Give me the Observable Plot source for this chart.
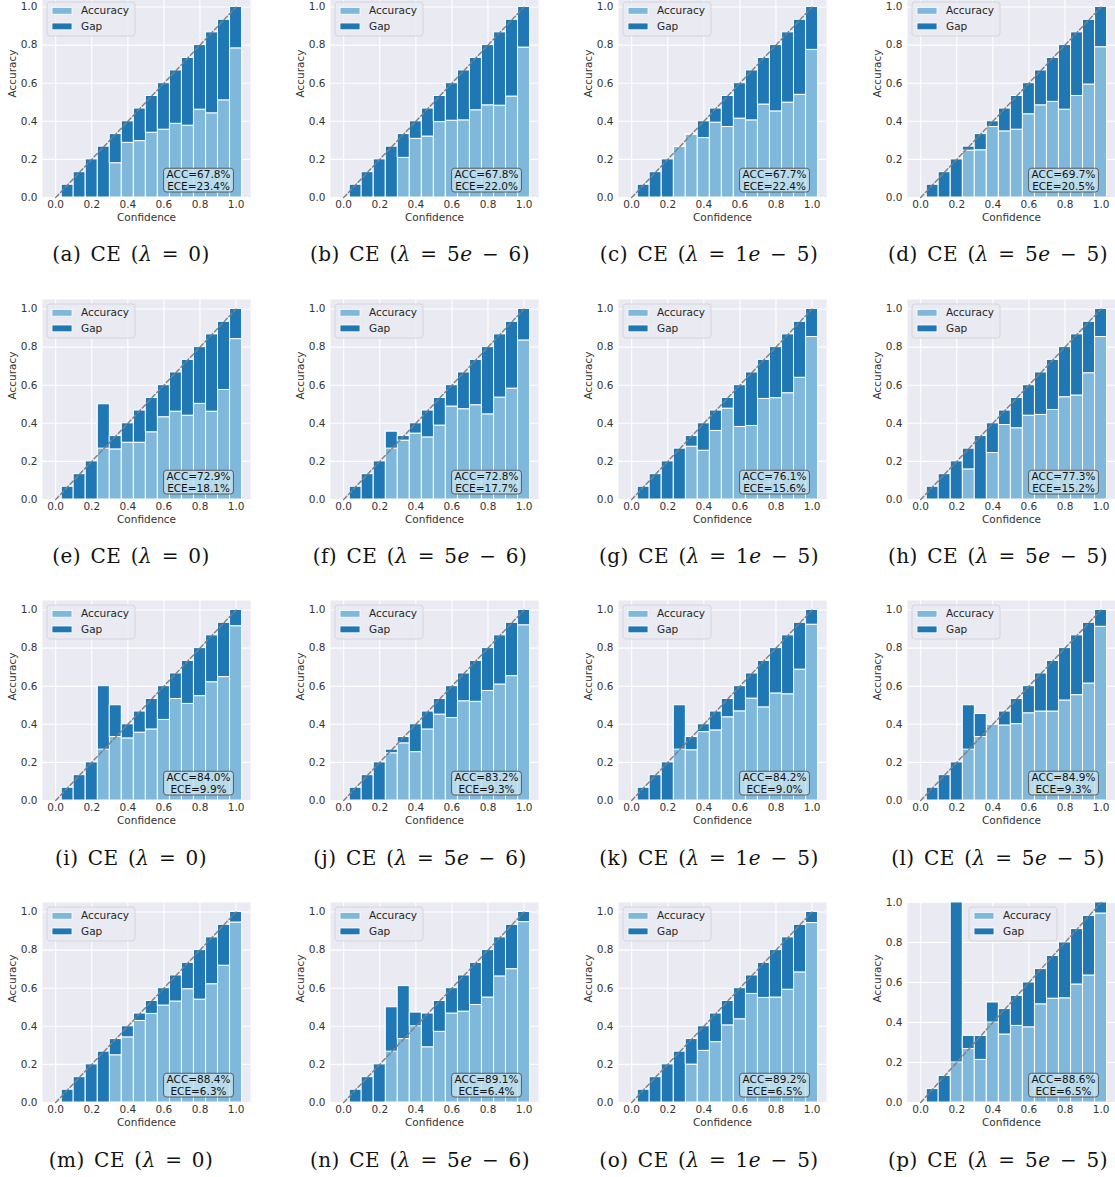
<!DOCTYPE html>
<html><head><meta charset="utf-8">
<script src="https://cdn.jsdelivr.net/npm/d3@7"></script>
<script src="https://cdn.jsdelivr.net/npm/@observablehq/plot@0.6"></script>
<style>
html,body{margin:0;padding:0;background:#fff;overflow:hidden;}
#root{position:relative;width:1115px;height:1177px;overflow:hidden;background:#fff;}
.panel{position:absolute;}
.panel svg{max-width:none !important;}
.cap{position:absolute;font-family:"DejaVu Serif","Liberation Serif",serif;font-size:20px;letter-spacing:0.5px;word-spacing:2.5px;color:#111;white-space:nowrap;transform:translate(-50%,-50%);}
.cap i{font-style:italic;}
</style></head><body><div id="root"></div>
<script>
// ---- data ----
const binConf = [0.067, 0.133, 0.2, 0.267, 0.333, 0.4, 0.467, 0.533, 0.6, 0.667, 0.733, 0.8, 0.867, 0.933, 1.0];
const binWidth = 0.0667;
const accA = [0,0,0,0,0.18,0.287,0.296,0.34,0.356,0.387,0.377,0.461,0.442,0.51,0.783];
const accB = [0,0,0,0,0.208,0.308,0.32,0.396,0.403,0.405,0.458,0.484,0.482,0.53,0.787];
const accC = [0,0,0,0.265,0.33,0.312,0.393,0.37,0.414,0.405,0.488,0.452,0.498,0.539,0.775];
const accD = [0,0,0,0.246,0.248,0.37,0.347,0.356,0.437,0.484,0.502,0.461,0.533,0.593,0.789];
const accE = [0,0,0,0.5,0.263,0.298,0.298,0.353,0.432,0.461,0.44,0.502,0.461,0.575,0.842];
const accF = [0,0,0,0.356,0.309,0.346,0.326,0.388,0.488,0.474,0.495,0.447,0.535,0.582,0.835];
const accG = [0,0,0,0,0.277,0.256,0.36,0.477,0.381,0.386,0.528,0.532,0.558,0.639,0.853];
const accH = [0,0,0,0.158,0,0.244,0.391,0.374,0.44,0.444,0.47,0.537,0.546,0.663,0.853];
const accI = [0,0,0,0.6,0.5,0.326,0.356,0.373,0.423,0.533,0.507,0.548,0.621,0.648,0.915];
const accJ = [0,0,0,0.248,0.3,0.254,0.373,0.451,0.433,0.521,0.518,0.575,0.609,0.653,0.92];
const accK = [0,0,0,0.5,0.264,0.359,0.368,0.437,0.468,0.535,0.489,0.562,0.558,0.687,0.923];
const accL = [0,0,0,0.5,0.454,0.398,0.394,0.401,0.458,0.467,0.467,0.525,0.553,0.614,0.912];
const accM = [0,0,0,0,0.248,0.342,0.428,0.465,0.509,0.53,0.595,0.54,0.621,0.718,0.945];
const accN = [0,0,0,0.5,0.611,0.472,0.29,0.371,0.467,0.477,0.512,0.551,0.662,0.7,0.947];
const accO = [0,0,0,0,0.199,0.271,0.317,0.405,0.437,0.57,0.549,0.551,0.592,0.683,0.942];
const accP = [0,0,1.0,0.333,0.213,0.5,0.34,0.383,0.376,0.491,0.519,0.521,0.59,0.635,0.945];
const panelAcc = [accA,accB,accC,accD,accE,accF,accG,accH,accI,accJ,accK,accL,accM,accN,accO,accP];
const accText = ["67.8%","67.8%","67.7%","69.7%","72.9%","72.8%","76.1%","77.3%","84.0%","83.2%","84.2%","84.9%","88.4%","89.1%","89.2%","88.6%"];
const eceText = ["23.4%","22.0%","22.4%","20.5%","18.1%","17.7%","15.6%","15.2%","9.9%","9.3%","9.0%","9.3%","6.3%","6.4%","6.5%","6.5%"];
const panelLetters = ["a","b","c","d","e","f","g","h","i","j","k","l","m","n","o","p"];
const lambdaText = ["0","5e − 6","1e − 5","5e − 5"];
const axisTicks = [0,0.2,0.4,0.6,0.8,1.0];
const legendLabels = ["Accuracy","Gap"];
const xLabel = "Confidence", yLabel = "Accuracy";

// ---- style / layout ----
const cLight = "#7fb8da", cDark = "#1f77b4", cBg = "#eaeaf2";
const colLeft = [42, 330, 618, 907];
const rowBottom = [197, 499, 800, 1102];
const capX = [131, 420, 709, 998];
const capY = [254, 556, 858, 1160];
const mL = 42, mR = 6, mT = 5, mB = 32, axW = 208, axH = 200;
const root = document.getElementById("root");
const NS = "http://www.w3.org/2000/svg";
function el(tag, attrs){const e=document.createElementNS(NS,tag);for(const k in attrs)e.setAttribute(k,attrs[k]);return e;}

panelAcc.forEach((acc, k) => {
  const r = Math.floor(k/4), c = k%4;
  const rows = binConf.map((cf,i)=>({conf:cf, acc:acc[i]}));
  const yTop = d3.max(acc) >= 1 ? 1.0 : 1.05;
  const W = mL+axW+mR, H = mT+axH+mB;
  const svg = Plot.plot({
    width: W, height: H,
    marginLeft: mL, marginRight: mR, marginTop: mT, marginBottom: mB,
    style: {fontFamily: "DejaVu Sans", fontSize: "10.5px", color: "#333", background: "transparent", overflow: "visible", maxWidth: "none"},
    x: {domain: [-0.073, 1.08], ticks: axisTicks, tickFormat: d3.format(".1f"), tickSize: 0, tickPadding: 3, label: null},
    y: {domain: [0, yTop], ticks: axisTicks, tickFormat: d3.format(".1f"), tickSize: 0, tickPadding: 5, label: null},
    marks: [
      Plot.frame({fill: cBg, stroke: null}),
      Plot.gridX(axisTicks, {stroke: "white", strokeOpacity: 1, strokeWidth: 1.1}),
      Plot.gridY(axisTicks, {stroke: "white", strokeOpacity: 1, strokeWidth: 1.1}),
      Plot.rect(rows.filter(d=>d.acc>0), {x1: d=>d.conf-binWidth/2, x2: d=>d.conf+binWidth/2, y1: 0, y2: "acc", fill: cLight, stroke: "white", strokeWidth: 1}),
      Plot.rect(rows, {x1: d=>d.conf-binWidth/2, x2: d=>d.conf+binWidth/2, y1: "acc", y2: "conf", fill: cDark, stroke: "white", strokeWidth: 1}),
      Plot.line([[0,0],[1,1]], {stroke: "#808080", strokeWidth: 1.4, strokeDasharray: "4.5,2.5"}),
      Plot.text([`ACC=${accText[k]}\nECE=${eceText[k]}`], {frameAnchor: "bottom-right", dx: -52, dy: -8, textAnchor: "middle", lineAnchor: "bottom", lineHeight: 1.12, fontSize: 10.5, fill: "#111"}),
      Plot.text([yLabel], {frameAnchor: "left", rotate: -90, dx: -30, fontSize: 10.5, fill: "#333"}),
      Plot.text([xLabel], {frameAnchor: "bottom", dy: 20.5, lineAnchor: "middle", fontSize: 10.5, fill: "#333"})
    ]
  });
  const div = document.createElement("div");
  div.className = "panel";
  div.style.left = (colLeft[c]-mL) + "px";
  div.style.top = (rowBottom[r]-axH-mT) + "px";
  div.style.width = W + "px";
  div.style.height = H + "px";
  svg.style.maxWidth = "none";
  div.appendChild(svg);
  root.appendChild(div);

  // metrics box behind text
  const t = Array.from(svg.querySelectorAll("text")).find(e=>e.textContent.startsWith("ACC"));
  if (t) {
    const sr = svg.getBoundingClientRect(), tr = t.getBoundingClientRect();
    const g = t.parentNode;
    const rect = el("rect", {x: tr.left-sr.left-3, y: tr.top-sr.top+0.5, width: tr.width+6, height: tr.height, rx: 3, fill: "#c2e0ef", "fill-opacity": 0.85, stroke: "#5a5a5a", "stroke-width": 1});
    g.parentNode.insertBefore(rect, g);
  }
  // legend
  const lx = mL + (k===15 ? 62 : 5), ly = mT + 5;
  const lg = el("g", {"font-family": "DejaVu Sans", "font-size": "10.5px", "text-anchor": "start"});
  lg.appendChild(el("rect", {x: lx, y: ly, width: 88, height: 34, rx: 3, fill: cBg, "fill-opacity": 0.85, stroke: "#d4d4dc", "stroke-width": 1}));
  [cLight, cDark].forEach((col, j) => {
    const cy = ly + 8.8 + j*15.6;
    lg.appendChild(el("rect", {x: lx+5, y: cy-3.4, width: 20, height: 6.8, fill: col, stroke: "white", "stroke-width": 0.8}));
    const tx = el("text", {x: lx+34, y: cy, dy: "0.35em", fill: "#262626", "text-anchor": "start"});
    tx.textContent = legendLabels[j];
    lg.appendChild(tx);
  });
  svg.appendChild(lg);

  // caption
  const cap = document.createElement("div");
  cap.className = "cap";
  cap.style.left = capX[c] + "px";
  cap.style.top = capY[r] + "px";
  const lam = lambdaText[c].replace("e", "<i>e</i>");
  cap.innerHTML = `(${panelLetters[k]}) CE (<i>λ</i> = ${lam})`;
  root.appendChild(cap);
});
</script></body></html>
